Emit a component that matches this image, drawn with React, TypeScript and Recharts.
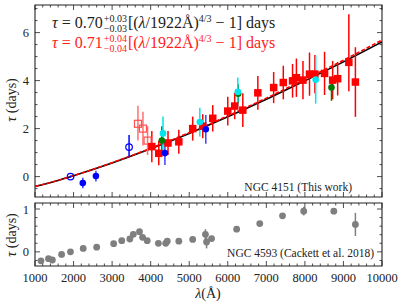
import React from "react";
import {
  ComposedChart,
  Scatter,
  Line,
  XAxis,
  YAxis,
  ErrorBar,
  ReferenceArea,
} from "recharts";

const FONT = '"Liberation Serif", "DejaVu Serif", serif';
const INK = "#222";

// NGC 4151 lags: [lambda (A), tau (days), err-, err+]
const blueOpen: number[][] = [
  [1922, 0, 0.04, 0.04],
  [3440, 1.23, 0.4, 0.5],
];
const blueFilled: number[][] = [
  [2240, -0.27, 0.22, 0.22],
  [2580, 0.02, 0.22, 0.22],
  [4370, 0.98, 0.5, 0.55],
  [5430, 1.97, 0.6, 0.6],
];
const redOpen: number[][] = [
  [3670, 2.2, 0.7, 0.75],
  [3800, 2.0, 0.7, 0.7],
  [3920, 1.5, 0.6, 0.6],
];
const redFilled: number[][] = [
  [4030, 1.25, 0.65, 0.65],
  [4210, 0.97, 0.5, 0.52],
  [4450, 1.4, 0.5, 0.5],
  [4730, 1.45, 0.5, 0.5],
  [5090, 2.0, 0.5, 0.5],
  [5350, 2.1, 0.5, 0.5],
  [5610, 2.43, 0.55, 0.55],
  [6000, 2.73, 0.6, 0.6],
  [6180, 2.94, 0.55, 0.55],
  [6390, 2.77, 0.7, 0.7],
  [6780, 3.49, 0.7, 0.7],
  [7190, 3.71, 0.65, 0.65],
  [7440, 3.92, 0.7, 0.7],
  [7680, 3.99, 0.7, 0.7],
  [7780, 4.12, 0.8, 0.8],
  [7950, 4.02, 0.8, 0.8],
  [8120, 4.27, 0.9, 0.9],
  [8260, 4.27, 0.8, 0.8],
  [8510, 4.3, 0.9, 0.9],
  [8720, 4.02, 0.8, 0.8],
  [8850, 4.08, 0.7, 0.7],
  [9140, 4.76, 1.2, 2.0],
  [9310, 3.94, 1.45, 1.45],
];
const cyanPts: number[][] = [
  [4320, 1.8, 0.7, 0.7],
  [5275, 2.27, 0.6, 0.6],
  [6260, 3.53, 0.6, 0.6],
  [8280, 4.04, 1.0, 1.0],
];
const greenPts: number[][] = [
  [4290, 1.5, 0.6, 0.6],
  [6270, 3.45, 0.4, 0.4],
  [8690, 3.71, 0.55, 0.35],
];

// fit curves
const fitLam = [1000, 1500, 2000, 3000, 4000, 5000, 6000, 7000, 8000, 9000, 10000];
const fitBlack = [-0.41, -0.2, 0.04, 0.57, 1.16, 1.8, 2.49, 3.22, 3.99, 4.78, 5.61];
const fitRed = [-0.41, -0.2, 0.04, 0.58, 1.18, 1.83, 2.53, 3.27, 4.05, 4.85, 5.69];

// NGC 4593 (Cackett et al. 2018): [lambda, tau, err]
const ngc4593: number[][] = [
  [1155, -0.21, 0], [1350, -0.16, 0], [1450, -0.19, 0], [1690, -0.06, 0],
  [1920, 0.0, 0], [2250, 0.08, 0], [2600, 0.11, 0], [3040, 0.19, 0],
  [3250, 0.26, 0], [3460, 0.3, 0], [3550, 0.41, 0], [3710, 0.47, 0],
  [3790, 0.34, 0], [3910, 0.26, 0], [4200, 0.2, 0], [4390, 0.2, 0.05],
  [4430, 0.25, 0], [4730, 0.25, 0], [5090, 0.29, 0], [5420, 0.41, 0.12],
  [5450, 0.23, 0.15], [5580, 0.31, 0], [6230, 0.53, 0], [6830, 0.66, 0],
  [7420, 0.84, 0], [7970, 0.95, 0.1], [8750, 0.95, 0.05], [9310, 0.64, 0.27],
];

const xTicks = [
  1000, 1200, 1400, 1600, 1800, 2000, 2200, 2400, 2600, 2800, 3000, 3200, 3400, 3600,
  3800, 4000, 4200, 4400, 4600, 4800, 5000, 5200, 5400, 5600, 5800, 6000, 6200, 6400,
  6600, 6800, 7000, 7200, 7400, 7600, 7800, 8000, 8200, 8400, 8600, 8800, 9000, 9200,
  9400, 9600, 9800, 10000,
];
const topYTicks = [-0.5, 0, 0.5, 1, 1.5, 2, 2.5, 3, 3.5, 4, 4.5, 5, 5.5, 6, 6.5, 7];
const botYTicks = [-0.2, 0, 0.2, 0.4, 0.6, 0.8, 1.0];

const toPts = (rows: number[][]) =>
  rows.map((r) => ({ lam: r[0], tau: r[1], err: [r[2], r[3]] }));
const toFit = (vals: number[]) => fitLam.map((l, i) => ({ lam: l, tau: vals[i] }));
const botPts = ngc4593.map((r) => ({ lam: r[0], tau: r[1], err: r[2] }));

const W = 401;
const PLOT_L = 35;
const PLOT_R = 382;
const PLOT_W = PLOT_R - PLOT_L;

const isMult = (v: number, m: number) => Math.abs(v / m - Math.round(v / m)) < 1e-6;

const xTick = (plotH: number, labels: boolean) => (props: any) => {
  const { x, y, payload } = props;
  const v = payload.value;
  const major = isMult(v, 1000);
  const len = major ? 5 : 2.5;
  return (
    <g>
      <line x1={x} y1={y} x2={x} y2={y - len} stroke={INK} strokeWidth={0.8} />
      <line x1={x} y1={y - plotH} x2={x} y2={y - plotH + len} stroke={INK} strokeWidth={0.8} />
      {labels && major && (
        <text x={x} y={y + 16} textAnchor="middle" fontSize={12.5} fontFamily={FONT} fill={INK}>
          {v}
        </text>
      )}
    </g>
  );
};

const yTick = (majorStep: number) => (props: any) => {
  const { x, y, payload } = props;
  const v = payload.value;
  const major = isMult(v, majorStep);
  const len = major ? 5 : 2.5;
  return (
    <g>
      <line x1={x} y1={y} x2={x + len} y2={y} stroke={INK} strokeWidth={0.8} />
      <line x1={x + PLOT_W} y1={y} x2={x + PLOT_W - len} y2={y} stroke={INK} strokeWidth={0.8} />
      {major && (
        <text x={x - 6} y={y + 4.5} textAnchor="end" fontSize={12.5} fontFamily={FONT} fill={INK}>
          {Math.round(v)}
        </text>
      )}
    </g>
  );
};

const square = (color: string, filled: boolean, s = 7) => (p: any) => (
  <rect
    x={p.cx - s / 2}
    y={p.cy - s / 2}
    width={s}
    height={s}
    fill={filled ? color : "none"}
    stroke={color}
    strokeWidth={filled ? 0 : 1.2}
  />
);
const circle = (color: string, filled: boolean, r = 3.3) => (p: any) => (
  <circle
    cx={p.cx}
    cy={p.cy}
    r={r}
    fill={filled ? color : "none"}
    stroke={color}
    strokeWidth={filled ? 0 : 1.2}
  />
);

function Eq({ color, val, up, dn, top }: any) {
  const small = { fontSize: 10, lineHeight: "10px" };
  return (
    <div
      style={{
        position: "absolute",
        left: 52,
        top,
        color,
        fontFamily: FONT,
        fontSize: 16,
        whiteSpace: "nowrap",
        lineHeight: "18px",
        height: 18,
      }}
    >
      <i>τ</i> = {val}
      <span
        style={{
          display: "inline-flex",
          flexDirection: "column",
          verticalAlign: "middle",
          margin: "0 1px",
          ...small,
        }}
      >
        <span>{up}</span>
        <span>{dn}</span>
      </span>
      [(<i>λ</i>/1922Å)
      <span style={{ ...small, position: "relative", top: -6 }}>4/3</span> − 1] days
    </div>
  );
}

export default function App() {
  return (
    <div style={{ position: "absolute", left: 0, top: 0, width: W, height: 308, background: "#fff" }}>
      {/* top panel: NGC 4151 */}
      <div style={{ position: "absolute", left: 0, top: 0 }}>
        <ComposedChart width={W} height={200} margin={{ top: 5, right: W - PLOT_R, bottom: 0, left: 0 }}>
          <XAxis
            type="number"
            dataKey="lam"
            domain={[1000, 10000]}
            allowDataOverflow
            ticks={xTicks}
            interval={0}
            height={3}
            tickSize={0}
            tickMargin={0}
            axisLine={false}
            tick={xTick(192, false)}
          />
          <YAxis
            type="number"
            dataKey="tau"
            domain={[-0.85, 7.15]}
            allowDataOverflow
            ticks={topYTicks}
            interval={0}
            width={PLOT_L}
            tickSize={0}
            tickMargin={0}
            axisLine={false}
            tick={yTick(2)}
          />
          <Line data={toFit(fitBlack)} dataKey="tau" type="monotone" dot={false} stroke="#000" strokeWidth={1.6} isAnimationActive={false} />
          <Line data={toFit(fitRed)} dataKey="tau" type="monotone" dot={false} stroke="#ff0000" strokeWidth={1.6} strokeDasharray="4 2" isAnimationActive={false} />
          <Scatter data={toPts(redOpen)} shape={square("#ff5050", false, 7)} isAnimationActive={false}>
            <ErrorBar dataKey="err" direction="y" width={0} stroke="#ff7070" strokeWidth={1.5} />
          </Scatter>
          <Scatter data={toPts(redFilled)} shape={square("#ff0000", true, 7.5)} isAnimationActive={false}>
            <ErrorBar dataKey="err" direction="y" width={0} stroke="#ff0000" strokeWidth={1.5} />
          </Scatter>
          <Scatter data={toPts(blueOpen)} shape={circle("#0000ff", false)} isAnimationActive={false}>
            <ErrorBar dataKey="err" direction="y" width={0} stroke="#0000ff" strokeWidth={1.5} />
          </Scatter>
          <Scatter data={toPts(blueFilled)} shape={circle("#0000ff", true)} isAnimationActive={false}>
            <ErrorBar dataKey="err" direction="y" width={0} stroke="#4040ff" strokeWidth={1.5} />
          </Scatter>
          <Scatter data={toPts(greenPts)} shape={circle("#007a00", true)} isAnimationActive={false}>
            <ErrorBar dataKey="err" direction="y" width={0} stroke="#007a00" strokeWidth={1.5} />
          </Scatter>
          <Scatter data={toPts(cyanPts)} shape={circle("#00e5ee", true)} isAnimationActive={false}>
            <ErrorBar dataKey="err" direction="y" width={0} stroke="#00e5ee" strokeWidth={1.5} />
          </Scatter>
          <ReferenceArea x1={1000} x2={10000} y1={-0.85} y2={7.15} fill="none" stroke={INK} strokeWidth={1.1} />
        </ComposedChart>
      </div>

      {/* bottom panel: NGC 4593 */}
      <div style={{ position: "absolute", left: 0, top: 200 }}>
        <ComposedChart width={W} height={108} margin={{ top: 3, right: W - PLOT_R, bottom: 0, left: 0 }}>
          <XAxis
            type="number"
            dataKey="lam"
            domain={[1000, 10000]}
            allowDataOverflow
            ticks={xTicks}
            interval={0}
            height={42}
            tickSize={0}
            tickMargin={0}
            axisLine={false}
            tick={xTick(63, true)}
          />
          <YAxis
            type="number"
            dataKey="tau"
            domain={[-0.33, 1.14]}
            allowDataOverflow
            ticks={botYTicks}
            interval={0}
            width={PLOT_L}
            tickSize={0}
            tickMargin={0}
            axisLine={false}
            tick={yTick(1)}
          />
          <Scatter data={botPts} shape={circle("#7f7f7f", true, 3.4)} isAnimationActive={false}>
            <ErrorBar dataKey="err" direction="y" width={0} stroke="#7f7f7f" strokeWidth={1.5} />
          </Scatter>
          <ReferenceArea x1={1000} x2={10000} y1={-0.33} y2={1.14} fill="none" stroke={INK} strokeWidth={1.1} />
        </ComposedChart>
      </div>

      <Eq color="#222" val="0.70" up="+0.03" dn="−0.03" top={14} />
      <Eq color="#ff2020" val="0.71" up="+0.04" dn="−0.04" top={34} />

      <div style={{ position: "absolute", right: W - 352, top: 181, fontFamily: FONT, fontSize: 11.5, color: INK, whiteSpace: "nowrap" }}>
        NGC 4151 (This work)
      </div>
      <div style={{ position: "absolute", right: W - 374, top: 247, fontFamily: FONT, fontSize: 11.5, color: INK, whiteSpace: "nowrap" }}>
        NGC 4593 (Cackett et al. 2018)
      </div>

      {[100, 235].map((cy) => (
        <div
          key={cy}
          style={{
            position: "absolute",
            left: 12,
            top: cy,
            transform: "translate(-50%, -50%) rotate(-90deg)",
            fontFamily: FONT,
            fontSize: 14,
            color: INK,
            whiteSpace: "nowrap",
          }}
        >
          <i>τ</i> (days)
        </div>
      ))}
      <div style={{ position: "absolute", left: 208, top: 294, transform: "translate(-50%, -50%)", fontFamily: FONT, fontSize: 14, color: INK, whiteSpace: "nowrap" }}>
        <i>λ</i>(Å)
      </div>
    </div>
  );
}
